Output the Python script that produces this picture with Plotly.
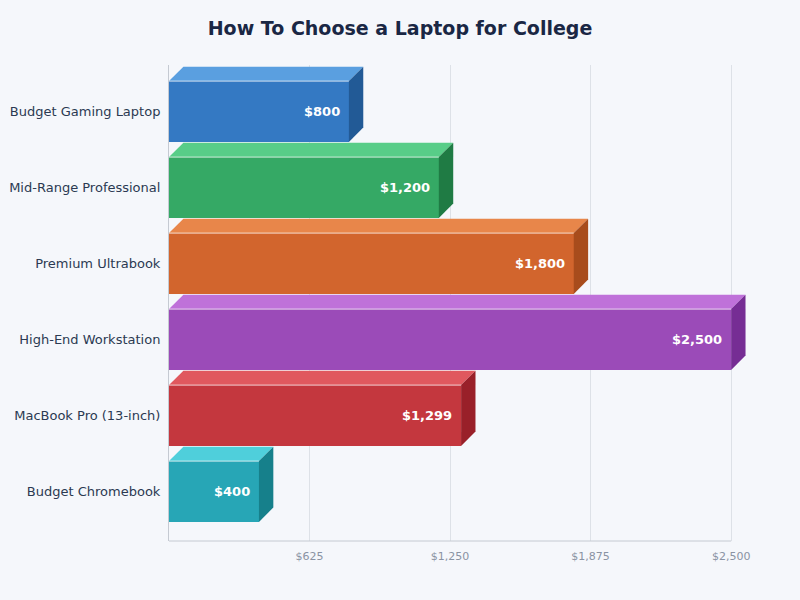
import plotly.graph_objects as go

# Data
categories = ["Budget Gaming Laptop", "Mid-Range Professional", "Premium Ultrabook",
              "High-End Workstation", "MacBook Pro (13-inch)", "Budget Chromebook"]
prices = [800, 1200, 1800, 2500, 1299, 400]
front_colors = ["#3479c3", "#35a965", "#d2652d", "#9b4bb8", "#c4373e", "#27a6b6"]
top_colors = ["#5a9fe0", "#58cd88", "#e8864a", "#bf71d9", "#e0585e", "#4fcfdb"]
side_colors = ["#225a96", "#1f7b44", "#a84c1c", "#762d94", "#992029", "#16808b"]
x_ticks = [625, 1250, 1875, 2500]

BG = "#f5f7fb"
BAR_W = 0.8
DX = 64      # depth in x units
DY = 0.19    # depth in category units
X_MAX = 2500
X_PAD = 75   # room for the side faces past the last tick

fig = go.Figure()

n = len(categories)
ypos = [n - 1 - i for i in range(n)]

# 3D faces: top + side for each bar
for i, (cat, v) in enumerate(zip(categories, prices)):
    y = ypos[i]
    top = y + BAR_W / 2
    bot = y - BAR_W / 2
    fig.add_trace(go.Scatter(
        x=[0, v, v + DX, DX, 0], y=[top, top, top + DY, top + DY, top],
        fill="toself", fillcolor=top_colors[i], mode="lines", line=dict(width=0),
        hoverinfo="skip", showlegend=False))
    fig.add_trace(go.Scatter(
        x=[v, v + DX, v + DX, v, v], y=[top, top + DY, bot + DY, bot, top],
        fill="toself", fillcolor=side_colors[i], mode="lines", line=dict(width=0),
        hoverinfo="skip", showlegend=False))

# front faces
fig.add_trace(go.Bar(
    x=prices, y=ypos, orientation="h", width=BAR_W,
    marker=dict(color=front_colors, line=dict(width=0)),
    hovertemplate="%{x:$,}<extra></extra>", showlegend=False))

# light edge along the top of each front face
for i, v in enumerate(prices):
    top = ypos[i] + BAR_W / 2
    fig.add_trace(go.Scatter(
        x=[0, v], y=[top, top], mode="lines",
        line=dict(color="rgba(255,255,255,0.75)", width=1),
        hoverinfo="skip", showlegend=False))

# value labels
for i, v in enumerate(prices):
    fig.add_annotation(x=v, y=ypos[i], text=f"<b>${v:,}</b>", showarrow=False,
                       xanchor="right", xshift=-7,
                       font=dict(family="DejaVu Sans", size=13, color="white"))

# bottom axis line, stops at the last tick
fig.add_shape(type="line", x0=0, x1=X_MAX, y0=0, y1=0, xref="x", yref="paper",
              line=dict(color="#c5cad2", width=1))

fig.update_layout(
    title=dict(text="<b>How To Choose a Laptop for College</b>", x=0.5, xanchor="center",
               y=0.953, yanchor="middle",
               font=dict(family="DejaVu Sans", size=19, color="#1a2744")),
    width=800, height=600,
    paper_bgcolor=BG, plot_bgcolor=BG,
    margin=dict(l=169, r=69 - 17, t=65, b=59),
    font=dict(family="DejaVu Sans"),
    bargap=0,
)
fig.update_xaxes(
    range=[0, X_MAX + X_PAD], tickvals=x_ticks, ticktext=[f"${t:,}" for t in x_ticks],
    tickfont=dict(size=11, color="#8a93a3"), showgrid=True, gridcolor="#dde1e7",
    gridwidth=1, zeroline=False, showline=False, automargin=False,
    ticks="outside", ticklen=5, tickcolor="rgba(0,0,0,0)")
fig.update_yaxes(
    range=[-0.651, 5.612], tickvals=ypos, ticktext=categories,
    tickfont=dict(size=13, color="#2b3a52"), showgrid=False, zeroline=False,
    showline=True, linecolor="#c5cad2", linewidth=1, automargin=False,
    ticks="outside", ticklen=5, tickcolor="rgba(0,0,0,0)")

fig.write_html("out.html", config={"displayModeBar": False},
               post_script=f"document.body.style.margin='0';"
                           f"document.body.style.background='{BG}';")
